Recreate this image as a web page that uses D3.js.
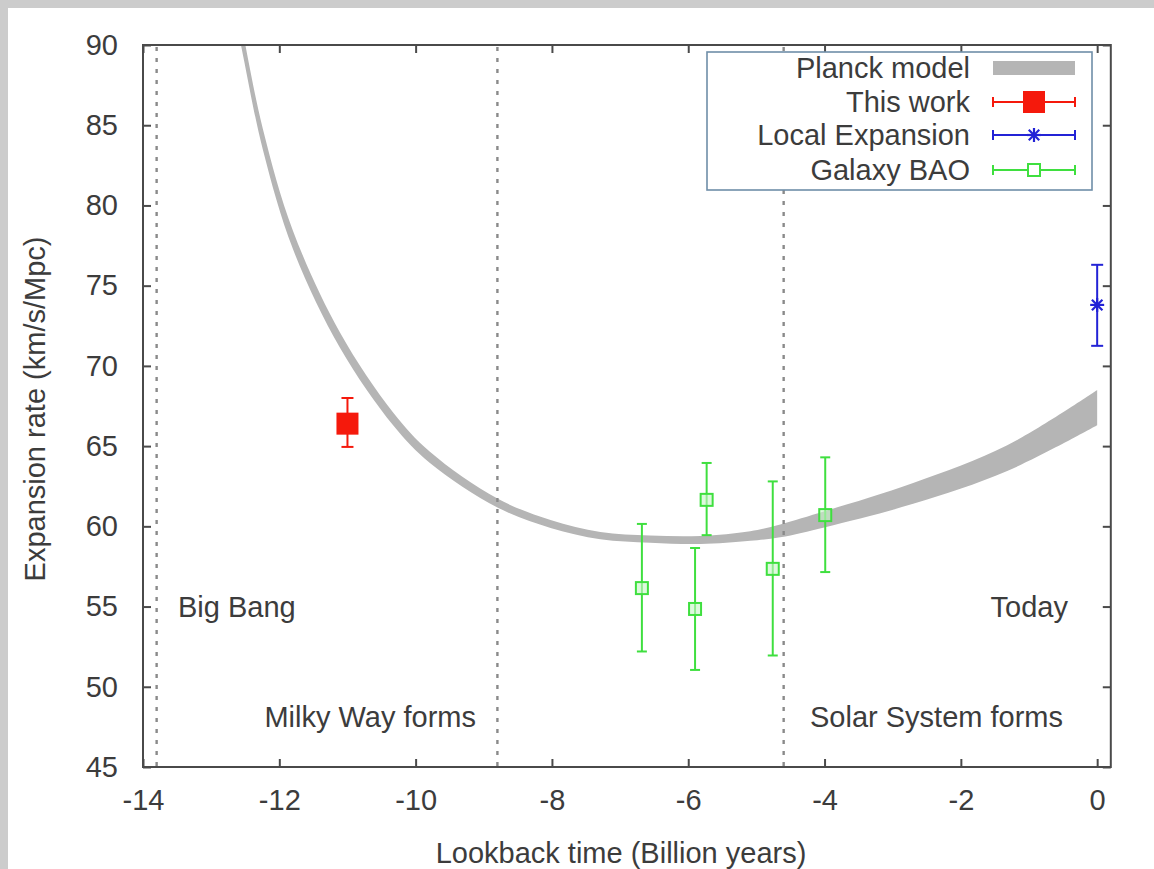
<!DOCTYPE html>
<html>
<head>
<meta charset="utf-8">
<script src="https://cdn.jsdelivr.net/npm/d3@7"></script>
<style>
  html, body { margin: 0; padding: 0; background: #cccccc; }
  svg { display: block; }
  text { font-family: "Liberation Sans", Arial, sans-serif; fill: #3c3c3c; }
</style>
</head>
<body>
<svg id="chart" width="1154" height="869"></svg>
<script>
// ---------------- data ----------------
const xTicks = [-14, -12, -10, -8, -6, -4, -2, 0];
const yTicks = [45, 50, 55, 60, 65, 70, 75, 80, 85, 90];

// Planck model band (lower / upper edge)
const planckTime = [-12.7, -12.53, -12.24, -11.80, -11.11, -10.33, -9.79, -8.8, -8.02, -7.29, -6.56, -5.82, -5.09, -4.65, -3.99, -2.70, -1.32, 0];
const planckLow  = [93.05, 89.3, 83.45, 77.28, 71.13, 66.3, 63.95, 61.18, 59.9, 59.2, 58.98, 58.9, 59.1, 59.32, 59.95, 61.4, 63.45, 66.3];
const planckHigh = [94.55, 90.7, 84.75, 78.43, 72.08, 67.1, 64.65, 61.73, 60.4, 59.65, 59.43, 59.4, 59.7, 60.12, 60.95, 62.7, 65.05, 68.5];

// This work
const thisWorkTime = [-11.0];
const thisWorkH = [66.4];
const thisWorkLow = [64.95];
const thisWorkHigh = [68.0];

// Local expansion
const localTime = [0.0];
const localH = [73.8];
const localLow = [71.25];
const localHigh = [76.3];

// Galaxy BAO
const baoTime = [-6.68, -5.90, -5.73, -4.76, -3.99];
const baoH    = [56.15, 54.85, 61.65, 57.35, 60.7];
const baoLow  = [52.2, 51.05, 59.45, 51.95, 57.15];
const baoHigh = [60.15, 58.65, 63.95, 62.8, 64.3];

// Epoch markers
const epochTime = [-13.8, -8.8, -4.6];

const legendLabels = ["Planck model", "This work", "Local Expansion", "Galaxy BAO"];

// ---------------- layout ----------------
const svg = d3.select("#chart");
const W = 1154, H = 869;
const FS = 29;
const plot = { left: 143, right: 1110.8, top: 45, bottom: 767 };

svg.append("rect").attr("x", 0).attr("y", 0).attr("width", W).attr("height", H).attr("fill", "#cccccc");
svg.append("rect").attr("x", 8).attr("y", 8).attr("width", W - 8).attr("height", H - 8).attr("fill", "#ffffff");

const x = d3.scaleLinear().domain([-14, 0.2]).range([plot.left, plot.right]);
const y = d3.scaleLinear().domain([45, 90]).range([plot.bottom, plot.top]);

svg.append("clipPath").attr("id", "clip")
  .append("rect").attr("x", plot.left).attr("y", plot.top)
  .attr("width", plot.right - plot.left).attr("height", plot.bottom - plot.top);

const g = svg.append("g");
const clipped = g.append("g").attr("clip-path", "url(#clip)");

// Planck band
const bandData = planckTime.map((t, i) => ({ t, lo: planckLow[i], hi: planckHigh[i] }));
const area = d3.area().x(d => x(d.t)).y0(d => y(d.lo)).y1(d => y(d.hi)).curve(d3.curveCatmullRom.alpha(0.5));
clipped.append("path").datum(bandData).attr("d", area).attr("fill", "#b5b5b5");

// Epoch dotted lines
clipped.selectAll("line.epoch").data(epochTime).join("line")
  .attr("class", "epoch")
  .attr("x1", d => x(d)).attr("x2", d => x(d))
  .attr("y1", plot.top + 2).attr("y2", plot.bottom)
  .attr("stroke", "#8a8a8a").attr("stroke-width", 2.4)
  .attr("stroke-dasharray", "4,7");

// Axis frame
const axisColor = "#4a4a4a";
g.append("rect").attr("x", plot.left).attr("y", plot.top)
  .attr("width", plot.right - plot.left).attr("height", plot.bottom - plot.top)
  .attr("fill", "none").attr("stroke", axisColor).attr("stroke-width", 2);

// Axes using d3 axis with inward ticks
const tickLen = 8;
const fmt = d => String(d);
const xAxisB = d3.axisBottom(x).tickValues(xTicks).tickSize(-tickLen).tickPadding(22).tickFormat(fmt);
const xAxisT = d3.axisTop(x).tickValues(xTicks).tickSize(-tickLen).tickFormat("");
const yAxisL = d3.axisLeft(y).tickValues(yTicks).tickSize(-tickLen).tickPadding(25).tickFormat(fmt);
const yAxisR = d3.axisRight(y).tickValues(yTicks).tickSize(-tickLen).tickFormat("");

function styleAxis(sel) {
  sel.select(".domain").remove();
  sel.selectAll(".tick line").attr("stroke", axisColor).attr("stroke-width", 2);
  sel.selectAll(".tick text").attr("font-size", FS).attr("fill", "#3c3c3c")
    .attr("font-family", "'Liberation Sans', Arial, sans-serif");
}
g.append("g").attr("transform", `translate(0,${plot.bottom})`).call(xAxisB).call(styleAxis)
  .selectAll(".tick text").attr("dy", "0.71em");
g.append("g").attr("transform", `translate(0,${plot.top})`).call(xAxisT).call(styleAxis);
g.append("g").attr("transform", `translate(${plot.left},0)`).call(yAxisL).call(styleAxis);
g.append("g").attr("transform", `translate(${plot.right},0)`).call(yAxisR).call(styleAxis);

// Axis titles
svg.append("text").attr("x", 621).attr("y", 863).attr("text-anchor", "middle")
  .attr("font-size", FS).text("Lookback time (Billion years)");
svg.append("text").attr("transform", "translate(45,409) rotate(-90)").attr("text-anchor", "middle")
  .attr("font-size", FS).text("Expansion rate (km/s/Mpc)");

// Annotations
const ann = [
  { t: "Big Bang", xx: 178, yy: 617, a: "start" },
  { t: "Milky Way forms", xx: 476, yy: 727, a: "end" },
  { t: "Solar System forms", xx: 810, yy: 727, a: "start" },
  { t: "Today", xx: 1068, yy: 617, a: "end" }
];
svg.selectAll("text.ann").data(ann).join("text").attr("class", "ann")
  .attr("x", d => d.xx).attr("y", d => d.yy).attr("text-anchor", d => d.a)
  .attr("font-size", FS).text(d => d.t);

// Error bar helper
function errorBars(parent, ts, vs, lo, hi, color, cap) {
  const data = ts.map((t, i) => ({ t, v: vs[i], lo: lo[i], hi: hi[i] }));
  const eg = parent.append("g").attr("stroke", color).attr("stroke-width", 2);
  eg.selectAll("line.v").data(data).join("line").attr("class", "v")
    .attr("x1", d => x(d.t)).attr("x2", d => x(d.t))
    .attr("y1", d => y(d.lo)).attr("y2", d => y(d.hi));
  eg.selectAll("line.ct").data(data).join("line").attr("class", "ct")
    .attr("x1", d => x(d.t) - cap / 2).attr("x2", d => x(d.t) + cap / 2)
    .attr("y1", d => y(d.hi)).attr("y2", d => y(d.hi));
  eg.selectAll("line.cb").data(data).join("line").attr("class", "cb")
    .attr("x1", d => x(d.t) - cap / 2).attr("x2", d => x(d.t) + cap / 2)
    .attr("y1", d => y(d.lo)).attr("y2", d => y(d.lo));
  return data;
}

const RED = "#f5190c", BLUE = "#2323d6", GREEN = "#3fdf3f";

// This work
const twData = errorBars(g, thisWorkTime, thisWorkH, thisWorkLow, thisWorkHigh, RED, 12);
g.selectAll("rect.tw").data(twData).join("rect").attr("class", "tw")
  .attr("x", d => x(d.t) - 11).attr("y", d => y(d.v) - 11)
  .attr("width", 22).attr("height", 22).attr("fill", RED);

// Local expansion
const leData = errorBars(g, localTime, localH, localLow, localHigh, BLUE, 12);
function star(sel, cx, cy, r) {
  const gg = sel.append("g").attr("stroke", BLUE).attr("stroke-width", 2.2);
  gg.append("line").attr("x1", cx - r).attr("x2", cx + r).attr("y1", cy).attr("y2", cy);
  gg.append("line").attr("x1", cx).attr("x2", cx).attr("y1", cy - r).attr("y2", cy + r);
  gg.append("line").attr("x1", cx - r * 0.75).attr("x2", cx + r * 0.75).attr("y1", cy - r * 0.75).attr("y2", cy + r * 0.75);
  gg.append("line").attr("x1", cx - r * 0.75).attr("x2", cx + r * 0.75).attr("y1", cy + r * 0.75).attr("y2", cy - r * 0.75);
}
leData.forEach(d => star(g, x(d.t), y(d.v), 7));

// BAO
const baoData = errorBars(g, baoTime, baoH, baoLow, baoHigh, GREEN, 10);
g.selectAll("rect.bao").data(baoData).join("rect").attr("class", "bao")
  .attr("x", d => x(d.t) - 6).attr("y", d => y(d.v) - 6)
  .attr("width", 12).attr("height", 12)
  .attr("fill", "#c8f5c8").attr("fill-opacity", 0.6)
  .attr("stroke", GREEN).attr("stroke-width", 2);

// ---------------- legend ----------------
const lg = svg.append("g");
lg.append("rect").attr("x", 707).attr("y", 52).attr("width", 385).attr("height", 138)
  .attr("fill", "#ffffff").attr("stroke", "#6f8ea8").attr("stroke-width", 1.6);
const rowY = [68, 102, 135, 170];
lg.selectAll("text.lg").data(legendLabels).join("text").attr("class", "lg")
  .attr("x", 970).attr("y", (d, i) => rowY[i] + 10).attr("text-anchor", "end")
  .attr("font-size", FS).text(d => d);
const sx0 = 993, sx1 = 1075, sxm = (sx0 + sx1) / 2;
// Planck sample
lg.append("rect").attr("x", sx0).attr("y", rowY[0] - 7).attr("width", sx1 - sx0).attr("height", 14).attr("fill", "#b5b5b5");
function legendBar(yy, color, cap) {
  const s = lg.append("g").attr("stroke", color).attr("stroke-width", 2);
  s.append("line").attr("x1", sx0).attr("x2", sx1).attr("y1", yy).attr("y2", yy);
  s.append("line").attr("x1", sx0).attr("x2", sx0).attr("y1", yy - cap / 2).attr("y2", yy + cap / 2);
  s.append("line").attr("x1", sx1).attr("x2", sx1).attr("y1", yy - cap / 2).attr("y2", yy + cap / 2);
}
legendBar(rowY[1], RED, 10);
lg.append("rect").attr("x", sxm - 11).attr("y", rowY[1] - 11).attr("width", 22).attr("height", 22).attr("fill", RED);
legendBar(rowY[2], BLUE, 10);
star(lg, sxm, rowY[2], 7);
legendBar(rowY[3], GREEN, 10);
lg.append("rect").attr("x", sxm - 6).attr("y", rowY[3] - 6).attr("width", 12).attr("height", 12)
  .attr("fill", "#ffffff").attr("stroke", GREEN).attr("stroke-width", 2);
</script>
</body>
</html>
